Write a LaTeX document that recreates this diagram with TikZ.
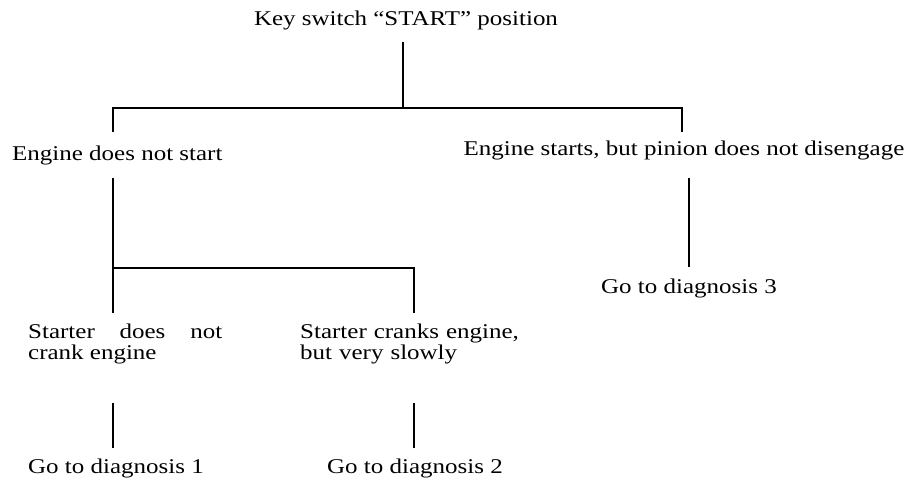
\documentclass[tikz,border=0pt]{standalone}
\usepackage{fontspec}
\setmainfont{Liberation Serif}[FakeStretch=1.19]
\usepackage{tikz}
\tikzset{every node/.append style={font=\fontsize{21}{21.5}\selectfont, inner sep=0pt}}
\tikzset{link/.style={line width=1.3pt}, stem/.style={line width=2.4pt}}

\begin{document}
\begin{tikzpicture}[x=1pt, y=-1pt]
    \useasboundingbox (0,0) rectangle (912,482);
    % top level
    \node[anchor=base] (key) at (406,25) {Key switch ``START'' position};
    \coordinate (k0) at (403,42);
    \coordinate (k1) at (403,108);
    \coordinate (kl) at (113,108);
    \coordinate (kr) at (682,108);
    \coordinate (klb) at (113,132);
    \coordinate (krb) at (682,132);
    \draw[stem] (k0) -- (k1);
    \draw[line width=2pt] (klb) -- (kl) -- (kr) -- (krb);
    % second level
    \node[anchor=base west] (nostart) at (12,160) {Engine does not start};
    \node[anchor=base] (nodisen) at (684,155) {Engine starts, but pinion does not disengage};
    % left branch
    \coordinate (a0) at (113,178);
    \coordinate (a1) at (113,268);
    \coordinate (a2) at (113,313);
    \coordinate (b1) at (414,268);
    \coordinate (b2) at (414,313);
    \draw[link] (a0) -- (a2);
    \draw[link] (a1) -- (b1) -- (b2);
    \node[anchor=base west, text width=194pt, align=justify] (crank1) at (28,338)
        {Starter does not crank engine};
    \node[anchor=base west, text width=260pt, align=left] (crank2) at (300,338)
        {Starter cranks engine,\\ but very slowly};
    \coordinate (a3) at (113,403);
    \coordinate (a4) at (113,448);
    \coordinate (b3) at (414,403);
    \coordinate (b4) at (414,448);
    \draw[link] (a3) -- (a4);
    \draw[link] (b3) -- (b4);
    \node[anchor=base west] (diag1) at (28,473) {Go to diagnosis 1};
    \node[anchor=base] (diag2) at (415,473) {Go to diagnosis 2};
    % right branch
    \coordinate (c0) at (689,178);
    \coordinate (c1) at (689,267);
    \draw[link] (c0) -- (c1);
    \node[anchor=base] (diag3) at (689,293) {Go to diagnosis 3};
\end{tikzpicture}
\end{document}
